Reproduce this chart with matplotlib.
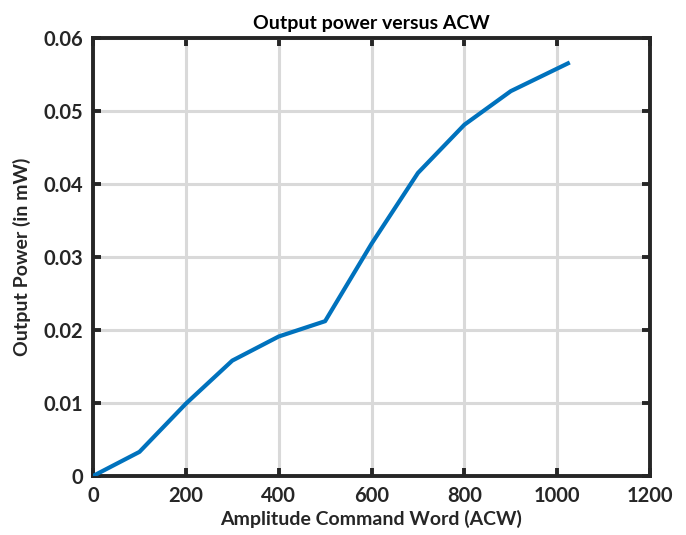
import matplotlib
matplotlib.use("Agg")
import matplotlib.pyplot as plt

acw = [0, 100, 200, 300, 400, 500, 600, 700, 800, 900, 1023]
power_mw = [0.0, 0.0033, 0.0099, 0.0158, 0.0191, 0.0212, 0.0318, 0.0415, 0.0481, 0.0527, 0.0565]
xticks = [0, 200, 400, 600, 800, 1000, 1200]
yticks = [0, 0.01, 0.02, 0.03, 0.04, 0.05, 0.06]
yticklabels = ["0", "0.01", "0.02", "0.03", "0.04", "0.05", "0.06"]

plt.rcParams['font.family'] = ['Lato', 'DejaVu Sans']
fig = plt.figure(figsize=(6.86, 5.35), dpi=100)
ax = fig.add_axes([0.1356, 0.1103, 0.812, 0.819])
ax.plot(acw, power_mw, color='#0072BD', linewidth=3.0, solid_joinstyle='round', zorder=3)
ax.set_xlim(0, 1200)
ax.set_ylim(0, 0.06)
ax.set_xticks(xticks)
ax.set_yticks(yticks)
ax.set_yticklabels(yticklabels)
ax.grid(True, color='#d9d9d9', linewidth=2.2)
ax.set_axisbelow(True)
for s in ax.spines.values():
    s.set_linewidth(2.8)
    s.set_color('#262626')
ax.tick_params(direction='in', length=6, width=2.8, top=True, right=True,
               labelsize=14.5, colors='#262626', labelcolor='#262626', pad=7)
for lbl in ax.get_xticklabels() + ax.get_yticklabels():
    lbl.set_fontweight('bold')
ax.set_xlabel('Amplitude Command Word (ACW)', fontsize=14, fontweight='bold', color='#262626', labelpad=3)
ax.set_ylabel('Output Power (in mW)', fontsize=14, fontweight='bold', color='#262626', labelpad=9)
ax.set_title('Output power versus ACW', fontsize=14, fontweight='bold', color='#000000', pad=6)
fig.savefig('out.png', dpi=100)
